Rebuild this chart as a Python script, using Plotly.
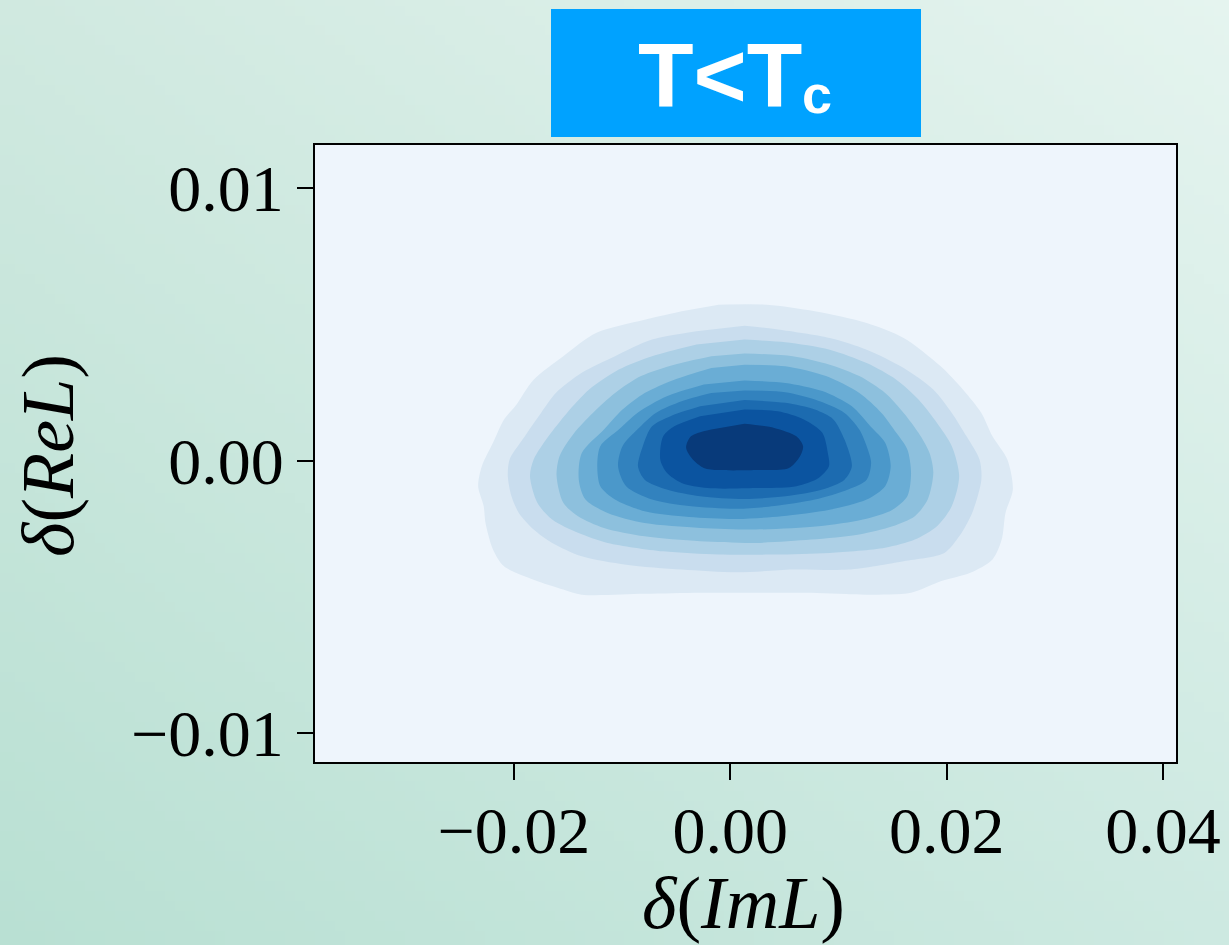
import base64
import struct
import zlib

import plotly.graph_objects as go

# ---------------- data (density contour boundaries, data units) ----------------
level1_x = [-0.00107, 0.00338, 0.00782, 0.01261, 0.01603, 0.01945, 0.02150, 0.02321, 0.02424, 0.02561, 0.02612, 0.02544, 0.02509, 0.02424, 0.02219, 0.01945, 0.01671, 0.01261, 0.00748, 0.00235, -0.00278, -0.00791, -0.01372, -0.01543, -0.01817, -0.02091, -0.02193, -0.02262, -0.02279, -0.0233, -0.02296, -0.02193, -0.02091, -0.01988, -0.01817, -0.01543, -0.01236, -0.00791, -0.00449]
level1_y = [0.00572, 0.00572, 0.00548, 0.00505, 0.00450, 0.00346, 0.00261, 0.00175, 0.00089, 0.00004, -0.00106, -0.00192, -0.00290, -0.00363, -0.00412, -0.00443, -0.00485, -0.00492, -0.00485, -0.00485, -0.00485, -0.00489, -0.00492, -0.00473, -0.00437, -0.00388, -0.00326, -0.00229, -0.00167, -0.00094, -0.00021, 0.00065, 0.00151, 0.00199, 0.00297, 0.00383, 0.00469, 0.00517, 0.00548]

level2_x = [0.00132, 0.00440, 0.00919, 0.01261, 0.01603, 0.01877, 0.02048, 0.02184, 0.02304, 0.02321, 0.02236, 0.02116, 0.01979, 0.01603, 0.01090, 0.00577, 0.00064, -0.00449, -0.00962, -0.01372, -0.01646, -0.01817, -0.01954, -0.02022, -0.02056, -0.02039, -0.01920, -0.01749, -0.01612, -0.01372, -0.01065, -0.00723, -0.00312]
level2_y = [0.00495, 0.00481, 0.00450, 0.00407, 0.00340, 0.00261, 0.00175, 0.00089, 0.00004, -0.00070, -0.00192, -0.00278, -0.00339, -0.00369, -0.00400, -0.00400, -0.00410, -0.00400, -0.00382, -0.00351, -0.00302, -0.00253, -0.00192, -0.00131, -0.00057, 0.00004, 0.00077, 0.00175, 0.00248, 0.00322, 0.00383, 0.00444, 0.00475]

level3_x = [0.00132, 0.00509, 0.00919, 0.01261, 0.01535, 0.01740, 0.01911, 0.02048, 0.02116, 0.02048, 0.01911, 0.01706, 0.01432, 0.00919, 0.00406, -0.00107, -0.00620, -0.01133, -0.01407, -0.01646, -0.01783, -0.01851, -0.01817, -0.01680, -0.01509, -0.01304, -0.01030, -0.00723, -0.00312]
level3_y = [0.00444, 0.00434, 0.00407, 0.00358, 0.00297, 0.00224, 0.00138, 0.00053, -0.00057, -0.00167, -0.00241, -0.00290, -0.00320, -0.00339, -0.00345, -0.00345, -0.00333, -0.00302, -0.00265, -0.00216, -0.00155, -0.00057, 0.00004, 0.00089, 0.00175, 0.00261, 0.00334, 0.00383, 0.00426]

level4_x = [0.00132, 0.00577, 0.00919, 0.01193, 0.01432, 0.01603, 0.01740, 0.01842, 0.01877, 0.01825, 0.01706, 0.01500, 0.01193, 0.00748, 0.00235, -0.00278, -0.00791, -0.01167, -0.01407, -0.01543, -0.01605, -0.01578, -0.01441, -0.01270, -0.01065, -0.00825, -0.00517, -0.00175]
level4_y = [0.00393, 0.00383, 0.00352, 0.00310, 0.00248, 0.00175, 0.00102, 0.00028, -0.00045, -0.00143, -0.00204, -0.00241, -0.00271, -0.00290, -0.00302, -0.00296, -0.00278, -0.00247, -0.00204, -0.00155, -0.00057, 0.00016, 0.00102, 0.00175, 0.00248, 0.00310, 0.00352, 0.00383]

level5_x = [0.00132, 0.00509, 0.00885, 0.01193, 0.01398, 0.01535, 0.01637, 0.01671, 0.01637, 0.01500, 0.01227, 0.00816, 0.00235, -0.00278, -0.00791, -0.01133, -0.01338, -0.01400, -0.01372, -0.01167, -0.00996, -0.00791, -0.00517, -0.00175]
level5_y = [0.00352, 0.00346, 0.00310, 0.00248, 0.00175, 0.00102, 0.00041, -0.00045, -0.00131, -0.00180, -0.00216, -0.00241, -0.00253, -0.00247, -0.00229, -0.00192, -0.00143, -0.00070, 0.00028, 0.00114, 0.00187, 0.00248, 0.00297, 0.00340]

level6_x = [0.00132, 0.00509, 0.00851, 0.01124, 0.01295, 0.01432, 0.01483, 0.01432, 0.01261, 0.00919, 0.00474, 0.00064, -0.00381, -0.00791, -0.01065, -0.01201, -0.01229, -0.01201, -0.01030, -0.00859, -0.00586, -0.00244]
level6_y = [0.00294, 0.00285, 0.00255, 0.00199, 0.00126, 0.00065, -0.00021, -0.00094, -0.00143, -0.00180, -0.00204, -0.00214, -0.00207, -0.00186, -0.00143, -0.00094, -0.00021, 0.00053, 0.00114, 0.00175, 0.00236, 0.00279]

level7_x = [0.00132, 0.00509, 0.00782, 0.01056, 0.01193, 0.01261, 0.01302, 0.01261, 0.01090, 0.00782, 0.00406, 0.00064, -0.00381, -0.00723, -0.00962, -0.01037, -0.00996, -0.00859, -0.00688, -0.00449, -0.00175]
level7_y = [0.00257, 0.00251, 0.00224, 0.00175, 0.00114, 0.00053, -0.00008, -0.00070, -0.00106, -0.00143, -0.00167, -0.00177, -0.00167, -0.00143, -0.00094, -0.00021, 0.00053, 0.00114, 0.00175, 0.00218, 0.00248]

level8_x = [0.00132, 0.00509, 0.00782, 0.00953, 0.01056, 0.01124, 0.01056, 0.00851, 0.00509, 0.00132, -0.00278, -0.00586, -0.00791, -0.00853, -0.00808, -0.00723, -0.00552, -0.00278]
level8_y = [0.00222, 0.00212, 0.00187, 0.00151, 0.00077, -0.00021, -0.00070, -0.00106, -0.00131, -0.00141, -0.00131, -0.00106, -0.00070, -0.00021, 0.00053, 0.00126, 0.00163, 0.00199]

level9_x = [0.00132, 0.00440, 0.00680, 0.00851, 0.00902, 0.00912, 0.00816, 0.00611, 0.00235, -0.00210, -0.00449, -0.00586, -0.00647, -0.00620, -0.00517, -0.00278]
level9_y = [0.00187, 0.00181, 0.00151, 0.00102, 0.00028, -0.00021, -0.00064, -0.00094, -0.00101, -0.00101, -0.00082, -0.00045, 0.00004, 0.00089, 0.00126, 0.00163]

level10_x = [0.00132, 0.00406, 0.00611, 0.00673, 0.00645, 0.00543, 0.00235, -0.00107, -0.00244, -0.00346, -0.00408, -0.00363, -0.00175]
level10_y = [0.00135, 0.00120, 0.00089, 0.00053, 0.00016, -0.00027, -0.00035, -0.00035, -0.00027, 0.00004, 0.00047, 0.00089, 0.00114]

x_tick_values = [-0.02, 0.0, 0.02, 0.04]
x_tick_labels = ["\u22120.02", "0.00", "0.02", "0.04"]
y_tick_values = [-0.01, 0.0, 0.01]
y_tick_labels = ["\u22120.01", "0.00", "0.01"]

level_colors = ["#DCE9F4", "#C9DDEE", "#ADD0E6", "#8DC0DD", "#6AADD5",
                "#4B98CA", "#3282BE", "#1C6BB0", "#0B54A0", "#083A7A"]

levels = [
    (level1_x, level1_y), (level2_x, level2_y), (level3_x, level3_y),
    (level4_x, level4_y), (level5_x, level5_y), (level6_x, level6_y),
    (level7_x, level7_y), (level8_x, level8_y), (level9_x, level9_y),
    (level10_x, level10_y),
]
for lx, ly in levels:
    assert len(lx) == len(ly), (len(lx), len(ly))


# ---------------- background gradient image (pure python PNG) ----------------
def gradient_png(w, h, tl, tr, bl, br):
    rows = []
    for j in range(h):
        v = j / (h - 1)
        row = bytearray(b"\x00")
        for i in range(w):
            u = i / (w - 1)
            for k in range(3):
                c = (tl[k] * (1 - u) * (1 - v) + tr[k] * u * (1 - v)
                     + bl[k] * (1 - u) * v + br[k] * u * v)
                row.append(int(round(c)))
        rows.append(bytes(row))
    raw = b"".join(rows)

    def chunk(tag, data):
        out = struct.pack(">I", len(data)) + tag + data
        return out + struct.pack(">I", zlib.crc32(tag + data) & 0xFFFFFFFF)

    png = (b"\x89PNG\r\n\x1a\n"
           + chunk(b"IHDR", struct.pack(">IIBBBBB", w, h, 8, 2, 0, 0, 0))
           + chunk(b"IDAT", zlib.compress(raw, 9))
           + chunk(b"IEND", b""))
    return "data:image/png;base64," + base64.b64encode(png).decode()


bg_src = gradient_png(123, 95, (208, 233, 224), (229, 244, 239),
                      (185, 224, 211), (205, 233, 225))

fig = go.Figure()

for (lx, ly), col in zip(levels, level_colors):
    fig.add_trace(go.Scatter(
        x=lx, y=ly, mode="lines", fill="toself", fillcolor=col,
        line=dict(width=0, shape="spline", smoothing=0.8, color=col),
        hoverinfo="skip", showlegend=False,
    ))

W, H = 1229, 945
serif = "Liberation Serif"
tick_font = dict(family=serif, size=66, color="black")
title_font = dict(family=serif, size=74, color="black")

fig.update_layout(
    width=W, height=H,
    margin=dict(l=0, r=0, t=0, b=0, pad=0, autoexpand=False),
    paper_bgcolor="#C9E6DB",
    plot_bgcolor="#EEF5FC",
    showlegend=False,
    images=[dict(source=bg_src, xref="paper", yref="paper", x=0, y=1,
                 sizex=1, sizey=1, xanchor="left", yanchor="top",
                 sizing="stretch", layer="below")],
    xaxis=dict(
        domain=[315 / W, 1176 / W], range=[-0.03838, 0.0412],
        tickvals=x_tick_values, ticktext=x_tick_labels,
        ticks="outside", ticklen=16, tickwidth=2, tickcolor="black",
        showline=True, linewidth=2, linecolor="black", mirror=True,
        showgrid=False, zeroline=False, tickfont=tick_font,
        ticklabelstandoff=-6,
    ),
    yaxis=dict(
        domain=[1 - 762 / H, 1 - 145 / H], range=[-0.01106, 0.01158],
        tickvals=y_tick_values, ticktext=y_tick_labels,
        ticks="outside", ticklen=16, tickwidth=2, tickcolor="black",
        showline=True, linewidth=2, linecolor="black", mirror=True,
        showgrid=False, zeroline=False, tickfont=tick_font,
    ),
    shapes=[
        # light plot-area background, drawn over the page gradient
        dict(type="rect", xref="x domain", yref="y domain",
             x0=0, x1=1, y0=0, y1=1, fillcolor="#EEF5FC",
             line=dict(width=0), layer="below"),
        # title box
        dict(type="rect", xref="paper", yref="paper",
             x0=551 / W, x1=921 / W, y0=1 - 137 / H, y1=1 - 9 / H,
             fillcolor="#00A2FF", line=dict(width=0), layer="above"),
    ],
    annotations=[
        dict(text="<b>T&lt;T</b>", xref="paper", yref="paper", x=804 / W,
             y=1 - 75.5 / H, xanchor="right", yanchor="middle",
             showarrow=False,
             font=dict(family="Liberation Sans", size=91, color="white")),
        dict(text="<b>c</b>", xref="paper", yref="paper", x=800 / W,
             y=1 - 94 / H, xanchor="left", yanchor="middle",
             showarrow=False,
             font=dict(family="Liberation Sans", size=54, color="white")),
        dict(text="<i>\u03b4</i>(<i>ReL</i>)", xref="paper", yref="paper",
             x=48 / W, y=1 - 456 / H, xanchor="center", yanchor="middle",
             textangle=-90, showarrow=False, font=title_font),
        dict(text="<i>\u03b4</i>(<i>ImL</i>)", xref="paper", yref="paper",
             x=743 / W, y=1 - 903 / H, xanchor="center", yanchor="middle",
             showarrow=False, font=title_font),
    ],
)

fig.write_html("out.html")
